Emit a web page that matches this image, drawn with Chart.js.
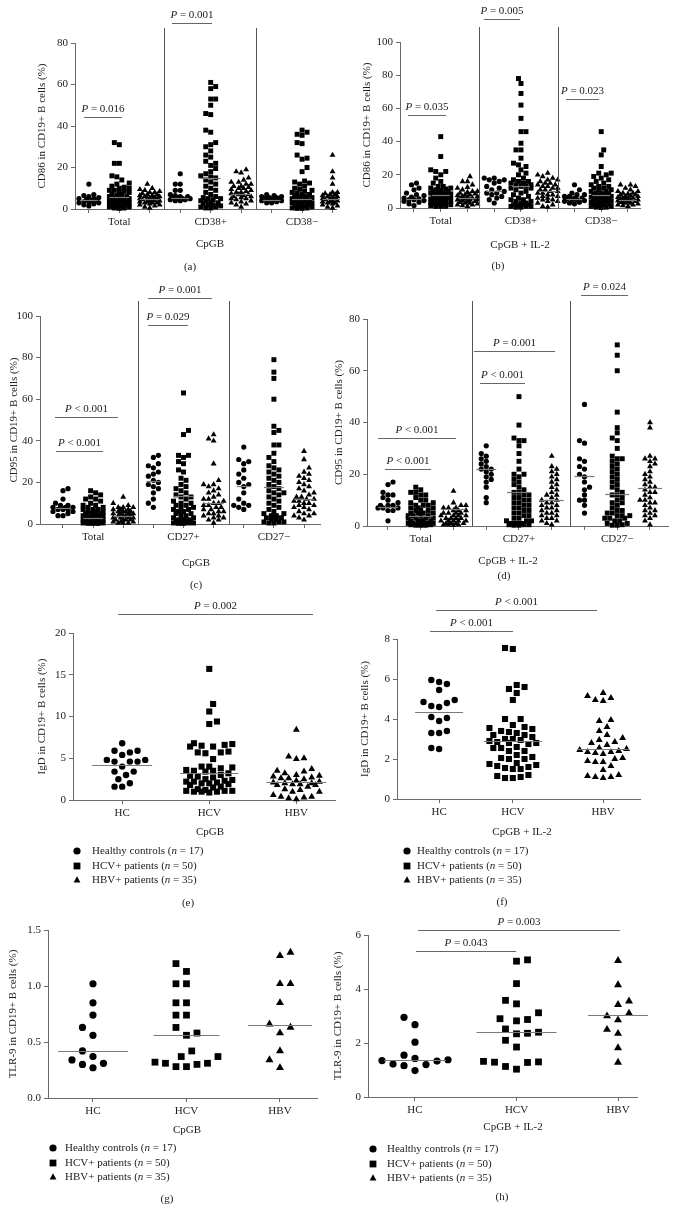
<!DOCTYPE html>
<html>
<head>
<meta charset="utf-8">
<script src="https://cdn.jsdelivr.net/npm/chart.js@4.4.0/dist/chart.umd.min.js"></script>
<style>
  body { margin: 0; background: #fff; width: 675px; height: 1212px; position: relative; overflow: hidden; }
  canvas { position: absolute; }
</style>
</head>
<body>
<script>
// ---- categories / labels ----
const groupNames = ['HC', 'HCV', 'HBV'];
const subsetsCD38 = ['Total', 'CD38+', 'CD38\u2212'];
const subsetsCD27 = ['Total', 'CD27+', 'CD27\u2212'];
const legendText = [
  ['Healthy controls (', 'n', ' = 17)'],
  ['HCV+ patients (', 'n', ' = 50)'],
  ['HBV+ patients (', 'n', ' = 35)']
];

// ---- (a) CD86, CpGB ----
const aTotHC = [12, 7, 6.5, 6, 5.5, 5, 5, 4.5, 4, 4, 3.5, 3.5, 3, 3, 2.5, 2, 1.5];
const aTotHCV = [32, 31, 22, 22, 16, 15.5, 14, 12.5, 12, 11, 10.5, 10, 10, 9, 9, 8.5, 8, 8, 7, 7, 6.5, 6, 6, 5.5, 5.5, 5, 5, 4.5, 4.5, 4, 4, 4, 3.5, 3.5, 3, 3, 3, 2.5, 2.5, 2, 2, 2, 1.5, 1.5, 1, 1, 1, 0.5, 0.5, 0.3];
const aTotHBV = [12, 10, 9.5, 9, 8.5, 8, 8, 7.5, 7, 7, 6.5, 6.5, 6, 6, 5.5, 5.5, 5, 5, 5, 4.5, 4.5, 4, 4, 4, 3.5, 3.5, 3, 3, 3, 2.5, 2, 2, 1.5, 1, 0.5];
const aPosHC = [17, 12, 12, 9, 9, 7, 6.5, 6, 6, 5.5, 5, 5, 5, 4.5, 4.5, 4, 4];
const aPosHCV = [61, 59, 58, 53, 53, 50, 46, 45.5, 38, 37, 32, 31, 30, 28, 26, 25, 23, 22, 21, 19.5, 18, 17, 16, 15.5, 15, 14, 13, 12, 11, 10, 9, 8, 7, 6, 5.5, 5, 5, 4.5, 4, 4, 3, 3, 2.5, 2, 2, 1.5, 1, 1, 0.5, 0.5];
const aPosHBV = [19, 18, 17.5, 15, 14, 13, 13, 12, 12, 11, 11, 10.5, 10, 10, 9.5, 9, 8.5, 8, 8, 7.5, 7, 7, 6.5, 6, 6, 5.5, 5, 5, 4.5, 4, 3.5, 3, 2.5, 2, 1];
const aNegHC = [7, 6.5, 6, 6, 5.5, 5.5, 5, 5, 5, 4.5, 4.5, 4, 4, 4, 3.5, 3, 3];
const aNegHCV = [38, 37, 36, 35.5, 32, 31.5, 26, 24.5, 24, 20, 18, 13.5, 13, 12.5, 12, 11, 10, 9.5, 9, 8.5, 8, 7.5, 7, 7, 6.5, 6, 6, 5.5, 5, 5, 5, 4.5, 4, 4, 4, 3.5, 3, 3, 3, 2.5, 2, 2, 1.5, 1.5, 1, 1, 0.5, 0.5, 0.3, 0.3];
const aNegHBV = [26, 18, 15, 12, 8.5, 8, 8, 7.5, 7, 7, 7, 6.5, 6, 6, 6, 5.5, 5, 5, 5, 5, 4.5, 4, 4, 4, 3.5, 3.5, 3, 3, 3, 2.5, 2, 2, 1.5, 1, 0.5];
// medians per series (HC, HCV, HBV), one value per block (Total, +, -)
const aMedHC = [4.5, 5.5, 4.5];
const aMedHCV = [6, 15, 5];
const aMedHBV = [5, 7.2, 5];

// ---- (b) CD86, CpGB + IL-2 ----
const bTotHC = [15, 14, 12, 11, 9, 8, 7.5, 6.5, 6, 5.5, 5, 5, 4.5, 4, 3.5, 2.5, 1.5];
const bTotHCV = [43, 31, 23, 22, 22, 20, 18, 16, 15, 13, 13, 12, 12, 11.5, 11, 10.5, 10, 10, 9.5, 9, 9, 8.5, 8, 8, 7.5, 7, 7, 6.5, 6, 6, 5.5, 5, 5, 5, 4.5, 4, 4, 4, 3.5, 3, 3, 3, 2.5, 2, 2, 2, 1.5, 1, 1, 1];
const bTotHBV = [19, 16, 16, 14, 12.5, 12, 11, 10, 10, 9.5, 9, 8.5, 8, 8, 7.5, 7, 7, 6.5, 6, 6, 5.5, 5, 5, 5, 4.5, 4, 4, 3.5, 3, 3, 2.5, 2, 2, 1.5, 1];
const bPosHC = [18, 18, 17, 17, 16, 15, 13, 12, 11, 10, 9, 9, 8, 7, 6, 5, 3];
const bPosHCV = [78, 75, 69, 62, 54, 46, 46, 39, 35, 35, 30, 27, 26, 25, 23, 21, 20, 18, 17, 16, 16, 15, 15, 14, 14, 13, 13, 12, 12, 11, 10, 9, 8, 7, 6, 5, 5, 4, 4, 3, 3, 2, 2, 2, 1.5, 1, 1, 1, 0.5, 0.5];
const bPosHBV = [21, 20, 19, 18, 17, 17, 16, 15, 15, 14, 14, 13, 13, 12, 12, 11, 11, 10, 10, 9, 9, 8, 8, 7, 7, 6, 6, 5, 5, 4, 4, 3, 2, 1, 0.5];
const bNegHC = [14, 11, 9, 8, 8, 7, 7, 6, 6, 5.5, 5, 5, 4.5, 4, 3.5, 3, 2.5];
const bNegHCV = [46, 35, 32, 25, 21, 21, 20, 19, 18, 17, 16, 15, 14, 13, 13, 12, 12, 11, 11, 10, 10, 9, 9, 8.5, 8, 8, 7.5, 7, 7, 6.5, 6, 6, 5.5, 5, 5, 4.5, 4, 4, 3.5, 3, 3, 2.5, 2, 2, 1.5, 1, 1, 0.5, 0.5, 0.3];
const bNegHBV = [14, 14, 13, 12, 11, 10, 10, 9, 9, 8.5, 8, 8, 7.5, 7, 7, 6.5, 6, 6, 6, 5.5, 5, 5, 5, 4.5, 4, 4, 4, 3.5, 3, 3, 2.5, 2, 2, 1.5, 1];
const bMedHC = [5.5, 10, 5.5];
const bMedHCV = [8, 13, 8];
const bMedHBV = [6, 10, 5];

// ---- (c) CD95, CpGB ----
const cTotHC = [17, 16, 12, 10, 9, 9, 8, 8, 8, 7, 7, 7, 6, 6, 5, 4, 4];
const cTotHCV = [16, 15, 14, 13, 12, 12, 11, 10, 9, 9, 8, 8, 7, 7, 7, 6, 6, 6, 5, 5, 5, 5, 4, 4, 4, 4, 3, 3, 3, 3, 3, 2, 2, 2, 2, 2, 2, 1, 1, 1, 1, 1, 1, 0.5, 0.5, 0.5, 0.5, 0.3, 0.3, 0.3];
const cTotHBV = [13, 10, 9, 8, 8, 8, 7, 7, 7, 6, 6, 6, 6, 5, 5, 5, 5, 4, 4, 4, 4, 3, 3, 3, 3, 2, 2, 2, 2, 1, 1, 1, 0.5, 0.5, 0.5];
const cPosHC = [33, 32, 29, 28, 27, 25, 24, 23, 21, 20, 19, 18, 17, 15, 12, 10, 8];
const cPosHCV = [63, 45, 43, 33, 33, 32, 30, 29, 26, 25, 22, 21, 19, 18, 17, 16, 15, 14, 13, 13, 12, 11, 10, 10, 9, 9, 8, 8, 7, 7, 6, 6, 5, 5, 4, 4, 3, 3, 2, 2, 2, 1, 1, 1, 0.5, 0.5, 0.5, 0.5, 0.3, 0.3];
const cPosHBV = [43, 41, 40, 29, 21, 19, 19, 18, 17, 16, 15, 14, 13, 12, 12, 11, 10, 10, 9, 9, 8, 8, 7, 7, 6, 6, 5, 5, 4, 4, 3, 3, 2, 2, 0.5];
const cNegHC = [37, 31, 30, 29, 26, 24, 22, 20, 19, 18, 15, 12, 10, 9, 9, 8, 7];
const cNegHCV = [79, 73, 70, 60, 47, 45, 44, 38, 38, 34, 32, 30, 28, 27, 26, 25, 24, 23, 22, 21, 20, 19, 18, 17, 16, 15, 15, 14, 13, 12, 11, 10, 9, 8, 7, 6, 5, 5, 4, 4, 3, 3, 3, 2, 2, 1, 1, 1, 0.5, 0.5];
const cNegHBV = [35, 31, 27, 25, 24, 23, 22, 21, 20, 19, 18, 17, 16, 15, 14, 13, 13, 12, 12, 11, 11, 10, 10, 9, 9, 8, 8, 7, 6, 5, 5, 4, 4, 3, 2];
const cMedHC = [7.5, 20.5, 18.5];
const cMedHCV = [3, 13.3, 17.8];
const cMedHBV = [4, 10.2, 12];

// ---- (d) CD95, CpGB + IL-2 ----
const dTotHC = [17, 16, 13, 12, 12, 11, 10, 9, 8, 8, 8, 7, 7, 7, 6, 6, 2];
const dTotHCV = [15, 14, 13, 13, 12, 12, 11, 10, 10, 9, 9, 8, 8, 8, 7, 7, 7, 6, 6, 6, 5, 5, 5, 5, 4, 4, 4, 4, 3, 3, 3, 3, 2, 2, 2, 2, 2, 1, 1, 1, 1, 1, 1, 0.5, 0.5, 0.5, 0.5, 0.3, 0.3, 0.3];
const dTotHBV = [13.5, 9, 8, 8, 7, 7, 7, 6, 6, 6, 5, 5, 5, 5, 4, 4, 4, 4, 3, 3, 3, 3, 2, 2, 2, 2, 2, 1, 1, 1, 1, 0.5, 0.5, 0.5, 0.3];
const dPosHC = [31, 28, 27, 26, 25, 24, 23, 22, 22, 21, 20, 19, 18, 17, 15, 11, 9];
const dPosHCV = [50, 39, 34, 33, 33, 31, 28, 25, 22, 20, 20, 19, 18, 17, 16, 15, 14, 13, 13, 12, 12, 11, 11, 10, 10, 9, 9, 8, 8, 7, 7, 6, 6, 5, 5, 4, 4, 3, 3, 2, 2, 2, 1, 1, 1, 0.5, 0.5, 0.5, 0.3, 0.3];
const dPosHBV = [27, 23, 22, 21, 20, 19, 18, 17, 16, 15, 14, 13, 12, 12, 11, 10, 10, 9, 9, 8, 8, 7, 7, 6, 6, 5, 5, 4, 4, 3, 3, 2, 2, 1, 0.5];
const dNegHC = [47, 33, 32, 26, 25, 23, 22, 20, 19, 17, 15, 14, 12, 10, 10, 8, 5];
const dNegHCV = [70, 66, 60, 44, 38, 36, 34, 33, 30, 27, 26, 26, 25, 24, 23, 22, 21, 20, 19, 18, 17, 16, 15, 14, 13, 12, 12, 11, 10, 9, 9, 8, 7, 6, 6, 5, 5, 4, 4, 4, 3, 3, 3, 2, 2, 1, 1, 0.5, 0.3, 0.3];
const dNegHBV = [40, 38, 27, 26, 26, 25, 24, 23, 21, 20, 19, 18, 17, 16, 15, 15, 14, 13, 13, 12, 11, 10, 10, 9, 9, 8, 7, 6, 6, 5, 4, 4, 3, 2, 0.5];
const dMedHC = [7.5, 22, 19.5];
const dMedHCV = [4, 13, 12.5];
const dMedHBV = [6.5, 10, 14.5];

// ---- (e) IgD, CpGB ----
const eHC = [6.8, 5.9, 5.9, 5.7, 5.4, 4.8, 4.8, 4.6, 4.6, 4.6, 4.0, 3.4, 3.4, 3.0, 2.5, 2.0, 1.6, 1.6];
const eHCV = [15.7, 11.5, 10.6, 9.4, 9.1, 6.8, 6.7, 6.6, 6.5, 6.4, 6.4, 5.8, 5.7, 5.7, 5.6, 4.9, 4.0, 4.0, 3.9, 3.8, 3.6, 3.5, 3.5, 3.4, 3.2, 3.0, 2.9, 2.8, 2.7, 2.5, 2.4, 2.3, 2.2, 2.2, 2.1, 2.0, 2.0, 1.9, 1.8, 1.6, 1.5, 1.3, 1.2, 1.1, 1.1, 1.1, 1.0, 1.0, 1.0, 0.9];
const eHBV = [8.4, 5.2, 5.0, 4.9, 3.7, 3.5, 3.4, 3.2, 3.0, 2.9, 2.8, 2.7, 2.6, 2.6, 2.5, 2.3, 2.2, 2.1, 2.0, 2.0, 1.9, 1.9, 1.8, 1.8, 1.6, 1.3, 1.2, 1.0, 1.0, 0.6, 0.4, 0.4, 0.3, 0.2, 0.1];
const eMedians = [4.2, 3.25, 2.1];

// ---- (f) IgD, CpGB + IL-2 ----
const fHC = [5.95, 5.85, 5.75, 5.45, 4.95, 4.85, 4.8, 4.65, 4.6, 4.1, 4.05, 3.9, 3.4, 3.3, 3.3, 2.55, 2.5];
const fHCV = [7.55, 7.5, 5.7, 5.6, 5.5, 5.3, 4.95, 4.0, 4.0, 3.7, 3.6, 3.55, 3.5, 3.4, 3.35, 3.3, 3.2, 3.2, 3.1, 3.0, 3.0, 2.95, 2.9, 2.85, 2.8, 2.8, 2.75, 2.6, 2.55, 2.55, 2.4, 2.4, 2.2, 2.1, 2.05, 2.0, 2.0, 1.8, 1.75, 1.7, 1.65, 1.6, 1.55, 1.5, 1.5, 1.2, 1.15, 1.1, 1.05, 1.05];
const fHBV = [5.3, 5.15, 5.05, 4.95, 4.9, 3.95, 3.9, 3.6, 3.4, 3.2, 3.05, 2.95, 2.85, 2.8, 2.7, 2.55, 2.5, 2.45, 2.4, 2.35, 2.35, 2.3, 2.25, 2.05, 2.0, 1.9, 1.85, 1.85, 1.65, 1.45, 1.2, 1.15, 1.1, 1.1, 1.05];
const fMedians = [4.35, 2.9, 2.5];

// ---- (g) TLR-9, CpGB ----
const gHC = [1.02, 0.85, 0.74, 0.63, 0.56, 0.42, 0.37, 0.34, 0.31, 0.30, 0.27];
const gHCV = [1.20, 1.13, 1.02, 1.02, 0.85, 0.85, 0.74, 0.74, 0.63, 0.58, 0.56, 0.42, 0.37, 0.37, 0.32, 0.31, 0.31, 0.30, 0.28, 0.28];
const gHBV = [1.30, 1.27, 1.02, 1.02, 0.85, 0.66, 0.63, 0.58, 0.42, 0.34, 0.27];
const gMedians = [0.42, 0.565, 0.655];

// ---- (h) TLR-9, CpGB + IL-2 ----
const hHC = [2.95, 2.68, 2.03, 1.55, 1.43, 1.38, 1.35, 1.33, 1.22, 1.2, 1.16, 0.98];
const hHCV = [5.08, 5.03, 4.2, 3.58, 3.45, 3.12, 2.9, 2.87, 2.82, 2.52, 2.4, 2.36, 2.34, 2.1, 1.85, 1.32, 1.3, 1.29, 1.28, 1.13, 1.03];
const hHBV = [5.05, 4.15, 3.55, 3.42, 3.1, 3.0, 2.85, 2.5, 2.35, 1.82, 1.28];
const hMedians = [1.38, 2.4, 3.02];

// ---- styling ----
const serif = '"Liberation Serif", "DejaVu Serif", serif';
const ink = '#222';
const axisGrey = '#6a6a6a';
const medianGrey = '#7a7a7a';
const YW = 28, XH = 24;
Chart.defaults.font.family = serif;
Chart.defaults.font.size = 11;
Chart.defaults.color = ink;

function blockLabels(subsets) {
  return [0, 1, 2, 3, 4, 5, 6, 7, 8].map(i => i % 3 === 1 ? subsets[(i - 1) / 3] : '');
}

const panels = [
  { canvas: [0, 0, 340, 282], area: [75, 43, 339, 209], xRange: [0.545, 9.13], yRange: [0, 80], yStep: 20,
    xPos: [1, 2, 3, 4, 5, 6, 7, 8, 9], xLabels: blockLabels(subsetsCD38),
    series: [[aTotHC, aPosHC, aNegHC], [aTotHCV, aPosHCV, aNegHCV], [aTotHBV, aPosHBV, aNegHBV]],
    medians: [aMedHC, aMedHCV, aMedHBV],
    sizes: [2.6, 3.5, 3.4], d: 5, maxHalf: 12, medHalf: [9, 10, 10],
    yTitle: ['CD86 in CD19+ B cells (%)', 42], xTitle: ['CpGB', 210, 244], tag: ['(a)', 190, 267],
    seps: [[164, 28], [256, 28]],
    sig: [['= 0.016', 84, 122, 117], ['= 0.001', 172, 212, 23]] },
  { canvas: [322, 0, 353, 282], area: [400, 42, 640, 208], xRange: [0.477, 9.45], yRange: [0, 100], yStep: 20,
    xPos: [1, 2, 3, 4, 5, 6, 7, 8, 9], xLabels: blockLabels(subsetsCD38),
    series: [[bTotHC, bPosHC, bNegHC], [bTotHCV, bPosHCV, bNegHCV], [bTotHBV, bPosHBV, bNegHBV]],
    medians: [bMedHC, bMedHCV, bMedHBV],
    sizes: [2.6, 3.5, 3.4], d: 5, maxHalf: 11, medHalf: [8, 9, 9],
    yTitle: ['CD86 in CD19+ B cells (%)', 367], xTitle: ['CpGB + IL-2', 520, 245], tag: ['(b)', 498, 266],
    seps: [[479, 27], [558, 27]],
    sig: [['= 0.035', 408, 446, 115], ['= 0.005', 484, 520, 19], ['= 0.023', 566, 599, 99]] },
  { canvas: [0, 278, 340, 320], area: [40, 316, 320, 524], xRange: [0.237, 9.53], yRange: [0, 100], yStep: 20,
    xPos: [1, 2, 3, 4, 5, 6, 7, 8, 9], xLabels: blockLabels(subsetsCD27),
    series: [[cTotHC, cPosHC, cNegHC], [cTotHCV, cPosHCV, cNegHCV], [cTotHBV, cPosHBV, cNegHBV]],
    medians: [cMedHC, cMedHCV, cMedHBV],
    sizes: [2.6, 3.5, 3.4], d: 5, maxHalf: 12, medHalf: [7, 10, 10],
    yTitle: ['CD95 in CD19+ B cells (%)', 14], xTitle: ['CpGB', 196, 563], tag: ['(c)', 196, 585],
    seps: [[138, 301], [229, 301]],
    sig: [['= 0.001', 148, 212, 298], ['< 0.001', 55, 118, 417], ['< 0.001', 56, 103, 451], ['= 0.029', 148, 188, 325]] },
  { canvas: [322, 278, 353, 320], area: [367, 319, 668, 526], xRange: [0.359, 9.55], yRange: [0, 80], yStep: 20,
    xPos: [1, 2, 3, 4, 5, 6, 7, 8, 9], xLabels: blockLabels(subsetsCD27),
    series: [[dTotHC, dPosHC, dNegHC], [dTotHCV, dPosHCV, dNegHCV], [dTotHBV, dPosHBV, dNegHBV]],
    medians: [dMedHC, dMedHCV, dMedHBV],
    sizes: [2.6, 3.5, 3.4], d: 5, maxHalf: 13, medHalf: [10, 12, 12],
    yTitle: ['CD95 in CD19+ B cells (%)', 339], xTitle: ['CpGB + IL-2', 508, 561], tag: ['(d)', 504, 576],
    seps: [[472, 301], [570, 301]],
    sig: [['< 0.001', 378, 456, 438], ['< 0.001', 385, 431, 469], ['= 0.001', 474, 555, 351], ['< 0.001', 480, 525, 383], ['= 0.024', 581, 628, 295]] },
  { canvas: [0, 588, 340, 324], area: [73, 633, 340, 800], xRange: [0.435, 3.452], yRange: [0, 20], yStep: 5,
    xPos: [1, 2, 3], xLabels: groupNames,
    series: [[eHC], [eHCV], [eHBV]], medians: eMedians.map(m => [m]),
    sizes: [3.2, 4.3, 4.0], d: 7.8, maxHalf: 27, medHalf: [30, 29, 30],
    yTitle: ['IgD in CD19+ B cells (%)', 42], xTitle: ['CpGB', 210, 832], tag: ['(e)', 188, 903],
    legend: [77, 92, [851, 866, 880]],
    sig: [['= 0.002', 118, 313, 614]] },
  { canvas: [322, 588, 353, 324], area: [397, 639, 640, 799], xRange: [0.543, 3.18], yRange: [0, 8], yStep: 2,
    xPos: [1, 1.8, 2.78], xLabels: groupNames,
    series: [[fHC], [fHCV], [fHBV]], medians: fMedians.map(m => [m]),
    sizes: [3.2, 4.3, 4.0], d: 7.8, maxHalf: 26, medHalf: [24, 29, 26],
    yTitle: ['IgD in CD19+ B cells (%)', 365], xTitle: ['CpGB + IL-2', 522, 832], tag: ['(f)', 502, 902],
    legend: [407, 417, [851, 866, 880]],
    sig: [['< 0.001', 436, 597, 610], ['< 0.001', 430, 513, 631]] },
  { canvas: [0, 912, 340, 300], area: [48, 930, 317, 1098], xRange: [0.519, 3.396], yRange: [0, 1.5], yStep: 0.5, yFixed: 1,
    xPos: [1, 2, 3], xLabels: groupNames,
    series: [[gHC], [gHCV], [gHBV]], medians: gMedians.map(m => [m]),
    sizes: [3.6, 4.8, 4.6], d: 10.5, maxHalf: 34, medHalf: [35, 33, 32],
    yTitle: ['TLR-9 in CD19+ B cells (%)', 13], xTitle: ['CpGB', 187, 1130], tag: ['(g)', 167, 1199],
    legend: [53, 65, [1148, 1163, 1177]],
    sig: [] },
  { canvas: [322, 912, 353, 300], area: [368, 935, 637, 1097], xRange: [0.537, 3.187], yRange: [0, 6], yStep: 2,
    xPos: [1, 2, 3], xLabels: groupNames,
    series: [[hHC], [hHCV], [hHBV]], medians: hMedians.map(m => [m]),
    sizes: [3.6, 4.8, 4.6], d: 11, maxHalf: 36, medHalf: [31, 40, 30],
    yTitle: ['TLR-9 in CD19+ B cells (%)', 338], xTitle: ['CpGB + IL-2', 513, 1127], tag: ['(h)', 502, 1197],
    legend: [373, 387, [1149, 1164, 1178]],
    sig: [['= 0.003', 418, 620, 930], ['= 0.043', 416, 516, 951]] }
];

// beeswarm layout: horizontal spread of the points of one group so markers do not overlap
function swarm(values, center, pxX, pxY, d, maxHalf) {
  const sorted = values.slice().sort((a, b) => a - b);
  const step = d / 2;
  const cands = [0];
  for (let k = 1; k * step <= maxHalf; k++) cands.push(k * step, -k * step);
  const placed = [];
  let flip = 1;
  sorted.forEach(v => {
    const py = v * pxY;
    let best = 0, bestDist = -1;
    for (const c0 of cands) {
      const c = c0 * flip;
      let minD = Infinity;
      for (const p of placed) {
        const dd = Math.hypot(p.px - c, p.py - py);
        if (dd < minD) minD = dd;
      }
      if (minD >= d) { best = c; break; }
      if (minD > bestDist) { bestDist = minD; best = c; }
    }
    flip = -flip;
    placed.push({ px: best, py: py, v: v });
  });
  return placed.map(p => ({ x: center + p.px / pxX, y: p.v }));
}

function drawRich(ctx, parts, x, y, align) {
  const fonts = parts.map(p => (p[1] ? 'italic ' : '') + '11px ' + serif);
  let w = 0;
  parts.forEach((p, i) => { ctx.font = fonts[i]; w += ctx.measureText(p[0]).width; });
  let cx = align === 'left' ? x : x - w / 2;
  ctx.textAlign = 'left';
  ctx.textBaseline = 'middle';
  parts.forEach((p, i) => { ctx.font = fonts[i]; ctx.fillText(p[0], cx, y); cx += ctx.measureText(p[0]).width; });
}

function marker(ctx, kind, x, y, r) {
  ctx.beginPath();
  if (kind === 0) ctx.arc(x, y, r, 0, Math.PI * 2);
  else if (kind === 1) ctx.rect(x - r, y - r, 2 * r, 2 * r);
  else { ctx.moveTo(x, y - r * 1.1); ctx.lineTo(x + r, y + r * 0.7); ctx.lineTo(x - r, y + r * 0.7); ctx.closePath(); }
  ctx.fill();
}

const styles = ['circle', 'rect', 'triangle'];

panels.forEach(cfg => {
  const [cx, cy, cw, ch] = cfg.canvas;
  const [l, t, r, b] = cfg.area;
  const canvas = document.createElement('canvas');
  canvas.width = cw; canvas.height = ch;
  canvas.style.left = cx + 'px'; canvas.style.top = cy + 'px';
  document.body.appendChild(canvas);

  const pxX = (r - l) / (cfg.xRange[1] - cfg.xRange[0]);
  const pxY = (b - t) / (cfg.yRange[1] - cfg.yRange[0]);
  const nSer = cfg.series.length;

  const datasets = cfg.series.map((blocks, si) => ({
    data: blocks.flatMap((vals, bi) => swarm(vals, cfg.xPos[bi * nSer + si], pxX, pxY, cfg.d, cfg.maxHalf)),
    pointStyle: styles[si],
    pointRadius: cfg.sizes[si],
    pointHoverRadius: cfg.sizes[si],
    backgroundColor: '#000',
    borderColor: '#000',
    borderWidth: 0,
    clip: false
  }));

  const yTicks = [];
  for (let v = cfg.yRange[0]; v <= cfg.yRange[1] + 1e-9; v += cfg.yStep) yTicks.push(+v.toFixed(4));

  const deco = {
    id: 'deco',
    afterDatasetsDraw(chart) {
      const ctx = chart.ctx;
      const xs = chart.scales.x, ys = chart.scales.y;
      ctx.save();
      // median lines (medians[series][block])
      ctx.strokeStyle = medianGrey;
      ctx.lineWidth = 1.2;
      cfg.medians.forEach((row, si) => row.forEach((m, bi) => {
        const px = xs.getPixelForValue(cfg.xPos[bi * nSer + si]);
        const py = Math.round(ys.getPixelForValue(m)) + 0.5;
        ctx.beginPath();
        ctx.moveTo(px - cfg.medHalf[si], py);
        ctx.lineTo(px + cfg.medHalf[si], py);
        ctx.stroke();
      }));
      // block separators
      ctx.strokeStyle = '#555';
      ctx.lineWidth = 1;
      (cfg.seps || []).forEach(([sx, sy]) => {
        ctx.beginPath();
        ctx.moveTo(sx - cx + 0.5, sy - cy);
        ctx.lineTo(sx - cx + 0.5, b - cy);
        ctx.stroke();
      });
      // significance bars
      cfg.sig.forEach(([txt, x1, x2, y]) => {
        ctx.strokeStyle = '#666';
        ctx.beginPath();
        ctx.moveTo(x1 - cx, y - cy + 0.5);
        ctx.lineTo(x2 - cx, y - cy + 0.5);
        ctx.stroke();
        ctx.fillStyle = ink;
        drawRich(ctx, [['P', true], [' ' + txt, false]], (x1 + x2) / 2 - cx, y - cy - 8);
      });
      // titles
      ctx.fillStyle = ink;
      ctx.font = '11px ' + serif;
      ctx.textAlign = 'center';
      ctx.textBaseline = 'middle';
      ctx.save();
      ctx.translate(cfg.yTitle[1] - cx, (t + b) / 2 - cy);
      ctx.rotate(-Math.PI / 2);
      ctx.fillText(cfg.yTitle[0], 0, 0);
      ctx.restore();
      ctx.fillText(cfg.xTitle[0], cfg.xTitle[1] - cx, cfg.xTitle[2] - cy);
      ctx.fillText(cfg.tag[0], cfg.tag[1] - cx, cfg.tag[2] - cy);
      // legend
      if (cfg.legend) {
        const [mx, tx, rows] = cfg.legend;
        rows.forEach((ry, i) => {
          ctx.fillStyle = '#000';
          marker(ctx, i, mx - cx, ry - cy, i === 0 ? 3.6 : 3.4);
          ctx.fillStyle = ink;
          const p = legendText[i];
          drawRich(ctx, [[p[0], false], [p[1], true], [p[2], false]], tx - cx, ry - cy, 'left');
        });
      }
      ctx.restore();
    }
  };

  new Chart(canvas, {
    type: 'scatter',
    data: { datasets },
    options: {
      responsive: false,
      animation: false,
      events: [],
      layout: { padding: { left: l - cx - YW, top: t - cy, right: cx + cw - r, bottom: cy + ch - b - XH } },
      plugins: { legend: { display: false }, tooltip: { enabled: false } },
      scales: {
        x: {
          type: 'linear', min: cfg.xRange[0], max: cfg.xRange[1],
          afterFit: s => { s.height = XH; },
          afterBuildTicks: s => { s.ticks = cfg.xPos.map(v => ({ value: v })); },
          ticks: { autoSkip: false, maxRotation: 0, padding: 3, color: ink, callback: (v, i) => cfg.xLabels[i] },
          grid: { display: true, drawOnChartArea: false, tickLength: 4, color: axisGrey },
          border: { color: axisGrey }
        },
        y: {
          min: cfg.yRange[0], max: cfg.yRange[1],
          afterFit: s => { s.width = YW; },
          afterBuildTicks: s => { s.ticks = yTicks.map(v => ({ value: v })); },
          ticks: { padding: 3, color: ink, callback: v => cfg.yFixed ? v.toFixed(cfg.yFixed) : v },
          grid: { display: true, drawOnChartArea: false, tickLength: 4, color: axisGrey },
          border: { color: axisGrey }
        }
      }
    },
    plugins: [deco]
  });
});
</script>
</body>
</html>
